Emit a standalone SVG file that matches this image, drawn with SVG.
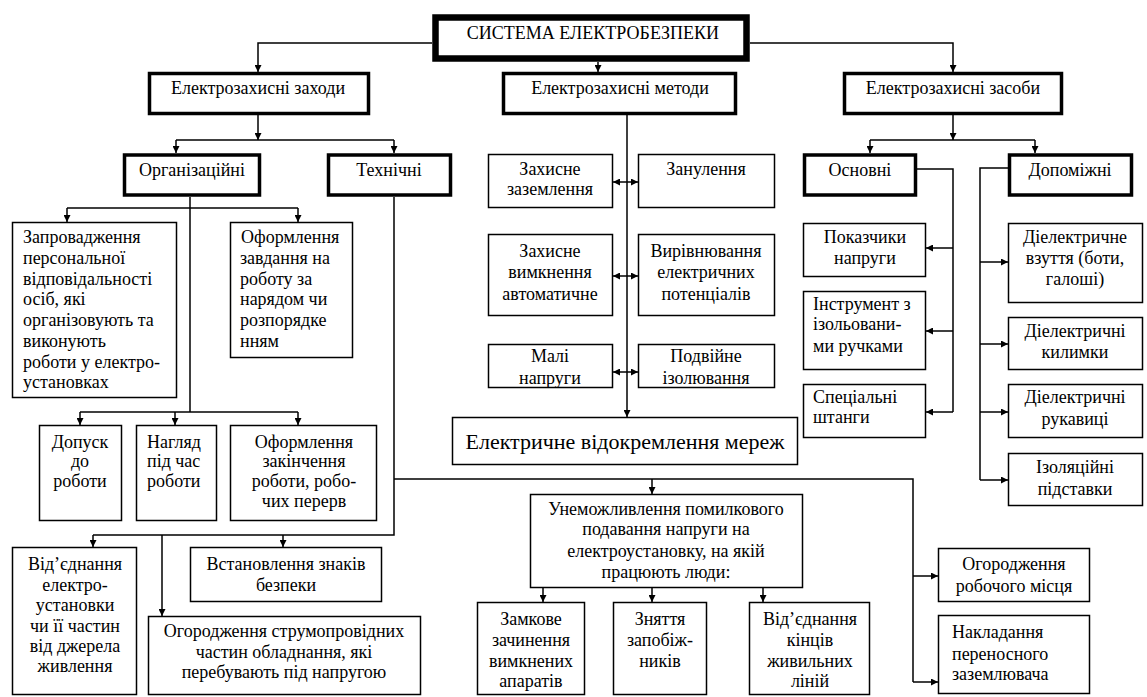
<svg xmlns="http://www.w3.org/2000/svg" width="1147" height="697" viewBox="0 0 1147 697">
  <style>
    .box { fill: #fff; stroke: #000; stroke-width: 1.5; }
    .b2 { stroke-width: 3.5; }
    .b3 { stroke-width: 6.5; }
    .ln { fill: none; stroke: #000; stroke-width: 1.5; }
    .t { font-family: "Liberation Serif", "Times New Roman", serif; font-size: 18px; fill: #000; }
    .c { text-anchor: middle; }
    .big { font-size: 22px; }
  </style>
  <defs>
    <marker id="ah" viewBox="0 0 7 7" markerWidth="7" markerHeight="7" refX="7" refY="3.5" orient="auto-start-reverse" markerUnits="userSpaceOnUse">
      <path d="M0,0 L7,3.5 L0,7 z" fill="#000"/>
    </marker>
  </defs>
  <rect width="1147" height="697" fill="#fff"/>

  <!-- connectors -->
  <g id="connectors">
    <path class="ln" d="M432,43 H258 V72" marker-end="url(#ah)"/>
    <path class="ln" d="M750,43 H953 V72" marker-end="url(#ah)"/>
    <path class="ln" d="M598,62 V72" marker-end="url(#ah)"/>

    <path class="ln" d="M258,115 V140" marker-end="url(#ah)"/>
    <path class="ln" d="M176,140 H394"/>
    <path class="ln" d="M176,140 V153" marker-end="url(#ah)"/>
    <path class="ln" d="M394,140 V153" marker-end="url(#ah)"/>

    <path class="ln" d="M953,115 V140" marker-end="url(#ah)"/>
    <path class="ln" d="M870,140 H1035"/>
    <path class="ln" d="M870,140 V153" marker-end="url(#ah)"/>
    <path class="ln" d="M1035,140 V153" marker-end="url(#ah)"/>

    <path class="ln" d="M190,197 V412"/>
    <path class="ln" d="M67,208 H298"/>
    <path class="ln" d="M67,208 V222" marker-end="url(#ah)"/>
    <path class="ln" d="M298,208 V222" marker-end="url(#ah)"/>
    <path class="ln" d="M80,412 H298"/>
    <path class="ln" d="M80,412 V425" marker-end="url(#ah)"/>
    <path class="ln" d="M175,412 V425" marker-end="url(#ah)"/>
    <path class="ln" d="M298,412 V425" marker-end="url(#ah)"/>

    <path class="ln" d="M394,197 V535 H93"/>
    <path class="ln" d="M93,535 V547" marker-end="url(#ah)"/>
    <path class="ln" d="M283,535 V547" marker-end="url(#ah)"/>
    <path class="ln" d="M162,535 V616" marker-end="url(#ah)"/>
    <path class="ln" d="M394,479 H913 V682"/>
    <path class="ln" d="M652,479 V494" marker-end="url(#ah)"/>
    <path class="ln" d="M913,576 H938" marker-end="url(#ah)"/>
    <path class="ln" d="M913,682 H938" marker-end="url(#ah)"/>

    <path class="ln" d="M543,588 V602" marker-end="url(#ah)"/>
    <path class="ln" d="M652,588 V602" marker-end="url(#ah)"/>
    <path class="ln" d="M763,588 V602" marker-end="url(#ah)"/>

    <path class="ln" d="M627,115 V417" marker-end="url(#ah)"/>
    <path class="ln" d="M613,182 H638" marker-start="url(#ah)" marker-end="url(#ah)"/>
    <path class="ln" d="M613,276 H638" marker-start="url(#ah)" marker-end="url(#ah)"/>
    <path class="ln" d="M613,372 H638" marker-start="url(#ah)" marker-end="url(#ah)"/>

    <path class="ln" d="M917,169 H953 V412"/>
    <path class="ln" d="M953,248 H926" marker-end="url(#ah)"/>
    <path class="ln" d="M953,331 H926" marker-end="url(#ah)"/>
    <path class="ln" d="M953,412 H926" marker-end="url(#ah)"/>

    <path class="ln" d="M1008,168 H980 V480"/>
    <path class="ln" d="M980,262 H1008" marker-end="url(#ah)"/>
    <path class="ln" d="M980,344 H1008" marker-end="url(#ah)"/>
    <path class="ln" d="M980,412 H1008" marker-end="url(#ah)"/>
    <path class="ln" d="M980,480 H1008" marker-end="url(#ah)"/>
  </g>

  <!-- root -->
  <g id="n-system">
    <rect class="box b3" x="435.5" y="17.5" width="311" height="41"/>
    <text class="t c" x="593" y="39">СИСТЕМА ЕЛЕКТРОБЕЗПЕКИ</text>
  </g>

  <!-- second level -->
  <g id="n-measures">
    <rect class="box b2" x="149.5" y="73.5" width="219" height="40"/>
    <text class="t c" x="258" y="94">Електрозахисні  заходи</text>
  </g>
  <g id="n-methods">
    <rect class="box b2" x="503.5" y="73.5" width="232" height="40"/>
    <text class="t c" x="620" y="94">Електрозахисні методи</text>
  </g>
  <g id="n-means">
    <rect class="box b2" x="844.5" y="73.5" width="217" height="40"/>
    <text class="t c" x="953" y="94">Електрозахисні засоби</text>
  </g>

  <!-- third level -->
  <g id="n-org">
    <rect class="box b2" x="124.5" y="155" width="135" height="40"/>
    <text class="t c" x="192" y="176">Організаційні</text>
  </g>
  <g id="n-tech">
    <rect class="box b2" x="328.5" y="155" width="122" height="40"/>
    <text class="t c" x="389" y="176">Технічні</text>
  </g>
  <g id="n-basic">
    <rect class="box b2" x="804.5" y="155" width="111" height="40"/>
    <text class="t c" x="860" y="176">Основні</text>
  </g>
  <g id="n-aux">
    <rect class="box b2" x="1009.5" y="155" width="122" height="40"/>
    <text class="t c" x="1070" y="176">Допоміжні</text>
  </g>

  <!-- organisational measures -->
  <g id="n-responsibility">
    <rect class="box" x="12.5" y="222.5" width="164" height="175"/>
    <text class="t" x="23" y="243">Запровадження</text>
    <text class="t" x="23" y="264">персональної</text>
    <text class="t" x="23" y="285">відповідальності</text>
    <text class="t" x="23" y="305">осіб, які</text>
    <text class="t" x="23" y="326">організовують та</text>
    <text class="t" x="23" y="347">виконують</text>
    <text class="t" x="23" y="368">роботи у електро-</text>
    <text class="t" x="23" y="388">установках</text>
  </g>
  <g id="n-order">
    <rect class="box" x="230.5" y="222.5" width="122" height="135"/>
    <text class="t" x="241" y="243">Оформлення</text>
    <text class="t" x="240" y="264">завдання на</text>
    <text class="t" x="240" y="285">роботу за</text>
    <text class="t" x="240" y="305">нарядом чи</text>
    <text class="t" x="240" y="326">розпорядке</text>
    <text class="t" x="240" y="347">нням</text>
  </g>
  <g id="n-admission">
    <rect class="box" x="39.5" y="425.5" width="82" height="95"/>
    <text class="t c" x="80" y="448">Допуск</text>
    <text class="t c" x="80" y="467">до</text>
    <text class="t c" x="80" y="487">роботи</text>
  </g>
  <g id="n-supervision">
    <rect class="box" x="136.5" y="425.5" width="80" height="95"/>
    <text class="t" x="147" y="448">Нагляд</text>
    <text class="t" x="147" y="467">під час</text>
    <text class="t" x="147" y="487">роботи</text>
  </g>
  <g id="n-completion">
    <rect class="box" x="230.5" y="425.5" width="146" height="95"/>
    <text class="t c" x="304" y="448">Оформлення</text>
    <text class="t c" x="304" y="467">закінчення</text>
    <text class="t c" x="304" y="487">роботи, робо-</text>
    <text class="t c" x="304" y="507">чих перерв</text>
  </g>

  <!-- technical measures -->
  <g id="n-disconnect">
    <rect class="box" x="12.5" y="547.5" width="124" height="147"/>
    <text class="t c" x="75" y="570">Від’єднання</text>
    <text class="t c" x="75" y="591">електро-</text>
    <text class="t c" x="75" y="611">установки</text>
    <text class="t c" x="75" y="632">чи її частин</text>
    <text class="t c" x="75" y="652">від джерела</text>
    <text class="t c" x="75" y="672">живлення</text>
  </g>
  <g id="n-signs">
    <rect class="box" x="190.5" y="547.5" width="191" height="54"/>
    <text class="t c" x="286" y="570">Встановлення знаків</text>
    <text class="t c" x="286" y="591">безпеки</text>
  </g>
  <g id="n-fencing-live">
    <rect class="box" x="148.5" y="616.5" width="272" height="78"/>
    <text class="t c" x="284" y="637">Огородження струмопровідних</text>
    <text class="t c" x="284" y="658">частин обладнання, які</text>
    <text class="t c" x="284" y="678">перебувають під напругою</text>
  </g>
  <g id="n-prevent">
    <rect class="box" x="530.5" y="494.5" width="272" height="93"/>
    <text class="t c" x="666" y="515">Унеможливлення помилкового</text>
    <text class="t c" x="666" y="535">подавання  напруги на</text>
    <text class="t c" x="666" y="557">електроустановку, на якій</text>
    <text class="t c" x="666" y="578">працюють люди:</text>
  </g>
  <g id="n-lock">
    <rect class="box" x="477.5" y="602.5" width="107" height="92"/>
    <text class="t c" x="531" y="625">Замкове</text>
    <text class="t c" x="531" y="646">зачинення</text>
    <text class="t c" x="531" y="667">вимкнених</text>
    <text class="t c" x="531" y="687">апаратів</text>
  </g>
  <g id="n-fuses">
    <rect class="box" x="613.5" y="602.5" width="93" height="92"/>
    <text class="t c" x="660" y="625">Зняття</text>
    <text class="t c" x="660" y="646">запобіж-</text>
    <text class="t c" x="660" y="667">ників</text>
  </g>
  <g id="n-line-ends">
    <rect class="box" x="749.5" y="602.5" width="120" height="92"/>
    <text class="t c" x="810" y="625">Від’єднання</text>
    <text class="t c" x="810" y="646">кінців</text>
    <text class="t c" x="810" y="667">живильних</text>
    <text class="t c" x="810" y="687">ліній</text>
  </g>
  <g id="n-fencing-place">
    <rect class="box" x="938.5" y="548.5" width="151" height="53"/>
    <text class="t c" x="1014" y="570">Огородження</text>
    <text class="t c" x="1014" y="592">робочого місця</text>
  </g>
  <g id="n-earthing-portable">
    <rect class="box" x="938.5" y="615.5" width="151" height="78"/>
    <text class="t" x="952" y="638">Накладання</text>
    <text class="t" x="952" y="660">переносного</text>
    <text class="t" x="952" y="680">заземлювача</text>
  </g>

  <!-- protection methods -->
  <g id="n-earthing">
    <rect class="box" x="488.5" y="154.5" width="124" height="53"/>
    <text class="t c" x="550" y="175">Захисне</text>
    <text class="t c" x="550" y="195">заземлення</text>
  </g>
  <g id="n-neutral">
    <rect class="box" x="638.5" y="154.5" width="136" height="53"/>
    <text class="t c" x="706" y="175">Занулення</text>
  </g>
  <g id="n-auto-off">
    <rect class="box" x="488.5" y="234.5" width="124" height="81"/>
    <text class="t c" x="550" y="257">Захисне</text>
    <text class="t c" x="550" y="278">вимкнення</text>
    <text class="t c" x="550" y="300">автоматичне</text>
  </g>
  <g id="n-equalize">
    <rect class="box" x="638.5" y="234.5" width="136" height="81"/>
    <text class="t c" x="706" y="257">Вирівнювання</text>
    <text class="t c" x="706" y="278">електричних</text>
    <text class="t c" x="706" y="300">потенціалів</text>
  </g>
  <g id="n-low-voltage">
    <rect class="box" x="488.5" y="344.5" width="124" height="43"/>
    <text class="t c" x="550" y="362">Малі</text>
    <text class="t c" x="550" y="384">напруги</text>
  </g>
  <g id="n-double-insulation">
    <rect class="box" x="638.5" y="344.5" width="136" height="43"/>
    <text class="t c" x="706" y="362">Подвійне</text>
    <text class="t c" x="706" y="384">ізолювання</text>
  </g>
  <g id="n-separation">
    <rect class="box" x="452.5" y="417.5" width="345" height="47"/>
    <text class="t c big" x="625" y="449">Електричне відокремлення мереж</text>
  </g>

  <!-- basic means -->
  <g id="n-indicators">
    <rect class="box" x="803.5" y="223.5" width="122" height="53"/>
    <text class="t c" x="865" y="243">Показчики</text>
    <text class="t c" x="865" y="264">напруги</text>
  </g>
  <g id="n-tools">
    <rect class="box" x="803.5" y="291.5" width="122" height="78"/>
    <text class="t" x="813" y="310">Інструмент з</text>
    <text class="t" x="813" y="330">ізольовани-</text>
    <text class="t" x="813" y="352">ми ручками</text>
  </g>
  <g id="n-rods">
    <rect class="box" x="803.5" y="384.5" width="122" height="53"/>
    <text class="t" x="813" y="403">Спеціальні</text>
    <text class="t" x="813" y="423">штанги</text>
  </g>

  <!-- auxiliary means -->
  <g id="n-footwear">
    <rect class="box" x="1008.5" y="223.5" width="134" height="79"/>
    <text class="t c" x="1075" y="243">Діелектричне</text>
    <text class="t c" x="1075" y="264">взуття (боти,</text>
    <text class="t c" x="1075" y="285">галоші)</text>
  </g>
  <g id="n-mats">
    <rect class="box" x="1008.5" y="317.5" width="134" height="52"/>
    <text class="t c" x="1075" y="337">Діелектричні</text>
    <text class="t c" x="1075" y="358">килимки</text>
  </g>
  <g id="n-gloves">
    <rect class="box" x="1008.5" y="384.5" width="134" height="53"/>
    <text class="t c" x="1075" y="403">Діелектричні</text>
    <text class="t c" x="1075" y="425">рукавиці</text>
  </g>
  <g id="n-stands">
    <rect class="box" x="1008.5" y="453.5" width="134" height="52"/>
    <text class="t c" x="1075" y="473">Ізоляційні</text>
    <text class="t c" x="1075" y="495">підставки</text>
  </g>
</svg>
